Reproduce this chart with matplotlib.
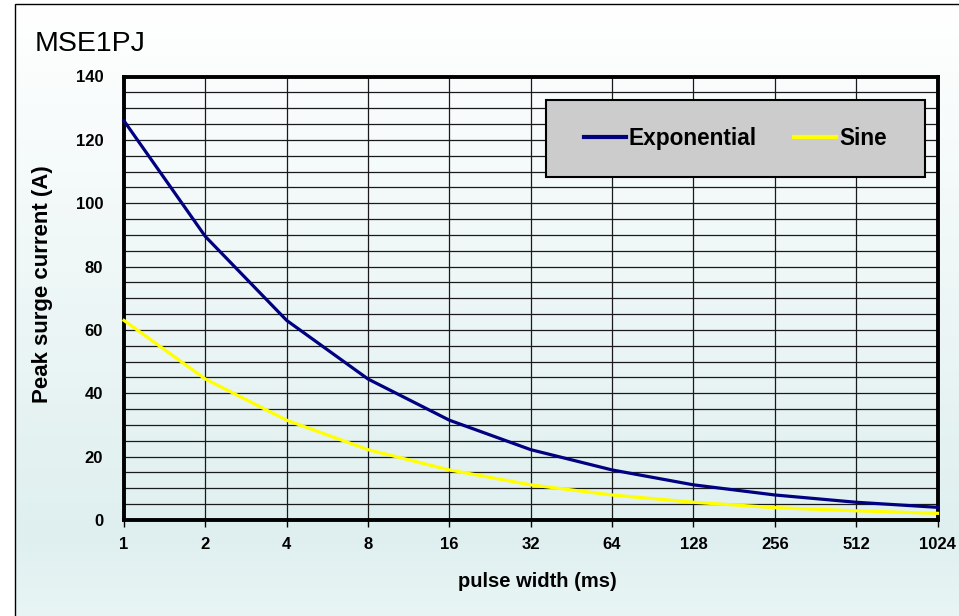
import numpy as np
import matplotlib
matplotlib.use("Agg")
import matplotlib.pyplot as plt
from matplotlib.patches import Rectangle

plt.rcParams['font.family'] = ['Liberation Sans', 'DejaVu Sans']

pulse_labels = ["1", "2", "4", "8", "16", "32", "64", "128", "256", "512", "1024"]
exponential = [126, 89.5, 63, 44.5, 31.5, 22.2, 15.8, 11.1, 7.9, 5.6, 4.0]
sine = [63, 44.5, 31.5, 22.2, 15.8, 11.1, 7.9, 5.6, 3.9, 2.9, 2.1]
y_ticks = [0, 20, 40, 60, 80, 100, 120, 140]

W, H = 959, 616
fig = plt.figure(figsize=(W / 100, H / 100), dpi=100)
fig.patch.set_facecolor('white')

# gradient background inside the chart frame
bx0, by0 = 14.5, 4.5
bg = fig.add_axes([bx0 / W, 0, 1 - bx0 / W, 1 - by0 / H], zorder=-10)
ys = np.linspace(0, 1, 300)
stop_pos = np.array([0.0, 0.87, 1.0])
stop_col = np.array([[1.0, 1.0, 1.0],
                     [0xDF / 255, 0xEF / 255, 0xEF / 255],
                     [0xE9 / 255, 0xF5 / 255, 0xF5 / 255]])
img = np.stack([np.interp(ys, stop_pos, stop_col[:, c]) for c in range(3)], axis=-1)[:, None, :]
bg.imshow(img, aspect='auto', extent=[0, 1, 0, 1], origin='upper')
bg.set_xlim(0, 1)
bg.set_ylim(0, 1)
bg.axis('off')
bg.add_patch(Rectangle((0, -0.1), 2, 1.1, fill=False,
                       edgecolor='black', linewidth=1.0, transform=bg.transAxes, clip_on=False))

left, right = 124 / W, 937.5 / W
bottom, topp = 1 - 520 / H, 1 - 76.5 / H
ax = fig.add_axes([left, bottom, right - left, topp - bottom])
ax.patch.set_alpha(0)

x = np.arange(len(pulse_labels))
ax.plot(x, exponential, color='#000080', lw=2.3, label='Exponential', zorder=3, clip_on=False)
ax.plot(x, sine, color='#FFFF00', lw=2.3, label='Sine', zorder=3, clip_on=False)

ax.set_xlim(0, len(pulse_labels) - 1)
ax.set_ylim(0, 140)
ax.set_xticks(x)
ax.set_xticklabels(pulse_labels, fontsize=12, fontweight='bold')
ax.set_yticks(y_ticks)
ax.set_yticklabels([str(v) for v in y_ticks], fontsize=12, fontweight='bold')
ax.tick_params(axis='y', which='both', length=0, pad=15)
ax.tick_params(axis='x', which='major', length=5, width=1, direction='out', pad=7)

for yv in np.arange(5, 140, 5):
    ax.axhline(yv, color='#1a1a1a', lw=0.9, zorder=1)
for xv in x[1:-1]:
    ax.axvline(xv, color='#1a1a1a', lw=0.9, zorder=1)

for s in ax.spines.values():
    s.set_linewidth(2.8)
    s.set_color('black')

ax.set_xlabel('pulse width (ms)', fontsize=14.5, fontweight='bold')
ax.set_ylabel('Peak surge current (A)', fontsize=16, fontweight='bold')
ax.xaxis.set_label_coords(0.508, -0.117)
ax.yaxis.set_label_coords(-0.0873, 0.531)

fig.text(35 / W, 1 - 44 / H, 'MSE1PJ', fontsize=20.5, va='center', ha='left')

# legend box
lx0, lx1, ly0, ly1 = 545.7, 925.0, 100.0, 176.7
ax.add_patch(Rectangle((lx0 / W, 1 - ly1 / H), (lx1 - lx0) / W, (ly1 - ly0) / H,
                       facecolor='#CCCCCC', edgecolor='black', linewidth=1.5,
                       transform=fig.transFigure, zorder=4, clip_on=False))
leg = ax.legend(loc='center', bbox_to_anchor=((lx0 + lx1) / 2 / W, 1 - (ly0 + ly1) / 2 / H),
                bbox_transform=fig.transFigure, ncol=2, frameon=False,
                prop={'weight': 'bold', 'size': 16.3}, handlelength=1.86, handletextpad=0.13,
                borderaxespad=0, borderpad=0, columnspacing=1.64)
for h in leg.legend_handles:
    h.set_linewidth(3)
leg.set_zorder(5)

fig.savefig('out.png', dpi=100)
